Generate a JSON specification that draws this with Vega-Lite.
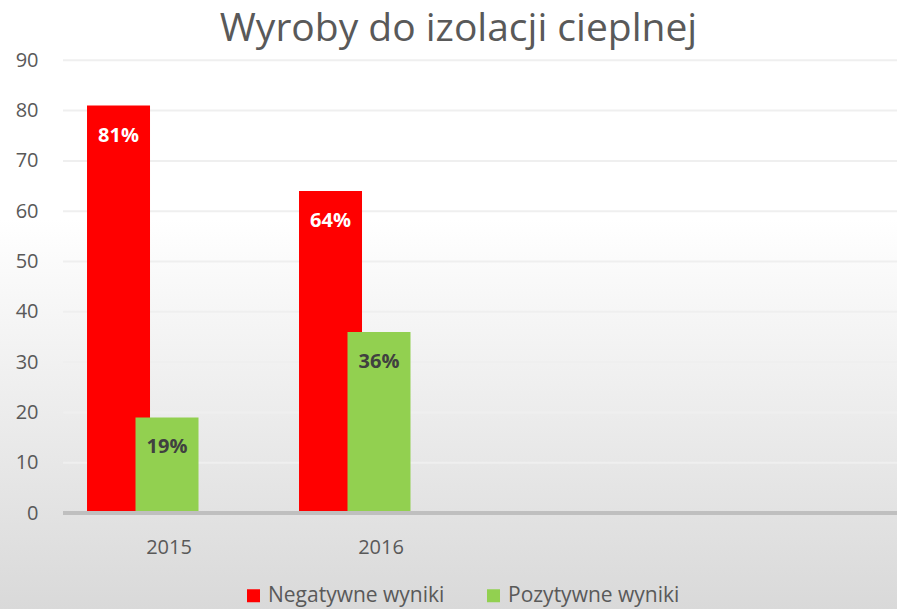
{
  "$schema": "https://vega.github.io/schema/vega-lite/v6.json",
  "width": 897,
  "height": 609,
  "padding": 0,
  "autosize": {"type": "none"},
  "background": "#d9d9d9",
  "view": {
    "stroke": null,
    "fill": {
      "gradient": "linear",
      "x1": 0, "y1": 0, "x2": 0, "y2": 1,
      "stops": [
        {"offset": 0, "color": "#ffffff"},
        {"offset": 0.36, "color": "#ffffff"},
        {"offset": 1, "color": "#d9d9d9"}
      ]
    }
  },
  "title": {
    "text": "Wyroby do izolacji cieplnej",
    "font": "Open Sans",
    "fontSize": 39,
    "fontWeight": "normal",
    "color": "#595959",
    "anchor": "middle",
    "frame": "group",
    "baseline": "alphabetic",
    "offset": -42,
    "dy": 38,
    "dx": 10
  },
  "datasets": {
    "bars": [
      {"year": "2015", "series": "Negatywne wyniki", "value": 81, "label": "81%"},
      {"year": "2016", "series": "Negatywne wyniki", "value": 64, "label": "64%"},
      {"year": "2015", "series": "Pozytywne wyniki", "value": 19, "label": "19%"},
      {"year": "2016", "series": "Pozytywne wyniki", "value": 36, "label": "36%"}
    ],
    "grid": [
      {"v": 10}, {"v": 20}, {"v": 30}, {"v": 40}, {"v": 50},
      {"v": 60}, {"v": 70}, {"v": 80}, {"v": 90}
    ]
  },
  "layer": [
    {
      "data": {"name": "grid"},
      "mark": {"type": "rule", "color": "#efefef", "strokeWidth": 2},
      "encoding": {
        "x": {
          "datum": "2015", "type": "nominal", "bandPosition": 0,
          "scale": {"domain": ["2015", "2016", " "], "paddingInner": 0, "paddingOuter": 0.6156, "align": 0.2414},
          "axis": {
            "title": null, "orient": "bottom", "offset": -96, "domain": false, "ticks": false, "grid": false,
            "labelAngle": 0, "labelFont": "Open Sans", "labelFontSize": 20, "labelColor": "#595959",
            "labelBaseline": "alphabetic", "labelPadding": 40
          }
        },
        "x2": {"value": "width"},
        "y": {
          "field": "v", "type": "quantitative",
          "scale": {"domain": [-19.085, 101.99], "nice": false, "zero": false},
          "axis": {
            "title": null, "orient": "left", "offset": -63, "domain": false, "ticks": false, "grid": false,
            "values": [0, 10, 20, 30, 40, 50, 60, 70, 80, 90],
            "labelFont": "Open Sans", "labelFontSize": 20, "labelColor": "#595959", "labelPadding": 25
          }
        }
      }
    },
    {
      "data": {"name": "bars"},
      "mark": {"type": "bar", "width": 63},
      "encoding": {
        "x": {"field": "year", "type": "nominal", "axis": {"title": null}},
        "xOffset": {
          "field": "series", "type": "nominal",
          "scale": {"domain": ["Negatywne wyniki", "Pozytywne wyniki", " "], "paddingInner": 0, "paddingOuter": 0.6856, "align": 0.47}
        },
        "y": {"field": "value", "type": "quantitative", "axis": {"title": null}},
        "y2": {"datum": 0},
        "color": {
          "field": "series", "type": "nominal",
          "scale": {"domain": ["Negatywne wyniki", "Pozytywne wyniki"], "range": ["#ff0000", "#92d050"]},
          "legend": {
            "title": null, "orient": "none", "legendX": 243, "legendY": 585, "direction": "horizontal",
            "padding": 0, "labelLimit": 400,
            "symbolType": "square", "symbolSize": 169, "symbolStrokeWidth": 0,
            "labelFont": "Open Sans", "labelFontSize": 21, "labelColor": "#595959",
            "labelOffset": 4, "columnPadding": 38
          }
        }
      }
    },
    {
      "data": {"name": "bars"},
      "mark": {"type": "text", "font": "Open Sans", "fontSize": 20, "fontWeight": "bold", "baseline": "middle", "dy": 30},
      "encoding": {
        "x": {"field": "year", "type": "nominal", "axis": {"title": null}},
        "xOffset": {"field": "series", "type": "nominal"},
        "y": {"field": "value", "type": "quantitative", "axis": {"title": null}},
        "text": {"field": "label"},
        "color": {
          "condition": {"test": "datum.series === 'Negatywne wyniki'", "value": "#ffffff"},
          "value": "#404040"
        }
      }
    },
    {
      "data": {"values": [{}]},
      "mark": {"type": "rule", "color": "#bfbfbf", "strokeWidth": 4},
      "encoding": {
        "x": {"datum": "2015", "type": "nominal", "bandPosition": 0, "axis": {"title": null}},
        "x2": {"value": "width"},
        "y": {"datum": 0, "type": "quantitative", "axis": {"title": null}}
      }
    }
  ]
}
